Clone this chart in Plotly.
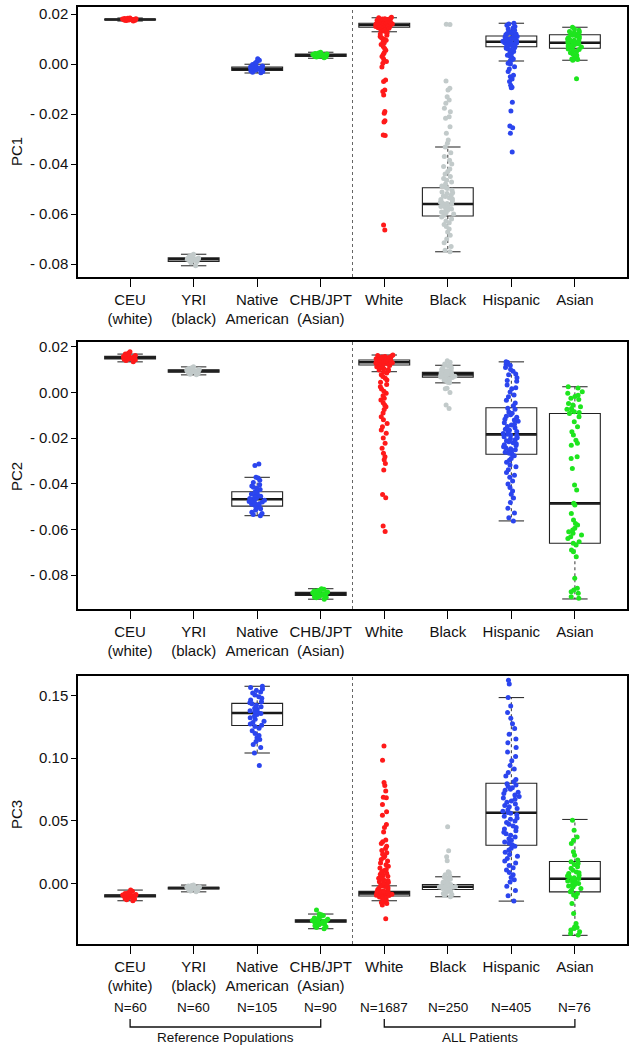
import plotly.graph_objects as go

# ---------------- data ----------------
groups = ["CEU<br>(white)", "YRI<br>(black)", "Native<br>American", "CHB/JPT<br>(Asian)",
          "White", "Black", "Hispanic", "Asian"]
group_n = ["N=60", "N=60", "N=105", "N=90", "N=1687", "N=250", "N=405", "N=76"]
positions = [1, 2, 3, 4, 5, 6, 7, 8]

pc1_ticks = [0.02, 0.0, -0.02, -0.04, -0.06, -0.08]
pc1_ticktext = ["0.02", "0.00", "- 0.02", "- 0.04", "- 0.06", "- 0.08"]
pc2_ticks = [0.02, 0.0, -0.02, -0.04, -0.06, -0.08]
pc2_ticktext = ["0.02", "0.00", "- 0.02", "- 0.04", "- 0.06", "- 0.08"]
pc3_ticks = [0.0, 0.05, 0.10, 0.15]
pc3_ticktext = ["0.00", "0.05", "0.10", "0.15"]

# box statistics (CEU, YRI, Native, CHB/JPT, White, Black, Hispanic, Asian)
pc1_lo = [0.0172, -0.0807, -0.0036, 0.0023, 0.0129, -0.0751, 0.0012, 0.0015]
pc1_q1 = [0.0176, -0.0790, -0.0026, 0.0030, 0.0147, -0.0608, 0.0069, 0.0063]
pc1_med = [0.0178, -0.0781, -0.0019, 0.0035, 0.0156, -0.0560, 0.0089, 0.0085]
pc1_q3 = [0.0180, -0.0775, -0.0012, 0.0040, 0.0163, -0.0495, 0.0112, 0.0117]
pc1_hi = [0.0184, -0.0761, -0.0001, 0.0047, 0.0185, -0.0332, 0.0163, 0.0147]

pc2_lo = [0.0134, 0.0077, -0.0540, -0.0906, 0.0091, 0.0042, -0.0563, -0.0905]
pc2_q1 = [0.0147, 0.0089, -0.0498, -0.0890, 0.0120, 0.0067, -0.0271, -0.0661]
pc2_med = [0.0152, 0.0094, -0.0468, -0.0883, 0.0132, 0.0079, -0.0184, -0.0486]
pc2_q3 = [0.0158, 0.0099, -0.0435, -0.0876, 0.0142, 0.0088, -0.0067, -0.0092]
pc2_hi = [0.0168, 0.0112, -0.0372, -0.0860, 0.0164, 0.0119, 0.0134, 0.0025]

pc3_lo = [-0.0138, -0.0067, 0.1040, -0.0361, -0.0138, -0.0106, -0.0141, -0.0414]
pc3_q1 = [-0.0108, -0.0045, 0.1259, -0.0310, -0.0100, -0.0048, 0.0305, -0.0067]
pc3_med = [-0.0098, -0.0037, 0.1359, -0.0300, -0.0079, -0.0027, 0.0563, 0.0037]
pc3_q3 = [-0.0090, -0.0030, 0.1436, -0.0290, -0.0063, -0.0008, 0.0799, 0.0175]
pc3_hi = [-0.0053, -0.0013, 0.1572, -0.0244, -0.0019, 0.0053, 0.1482, 0.0510]

# individual sample values
pc1_ceu = [0.0172, 0.0175, 0.0178, 0.0180, 0.0176, 0.0179, 0.0181, 0.0177, 0.0174, 0.0183,
           0.0178, 0.0176, 0.0180, 0.0179, 0.0182, 0.0175, 0.0177, 0.0178, 0.0181, 0.0184]
pc1_yri = [-0.0781, -0.0776, -0.0785, -0.0779, -0.0790, -0.0772, -0.0783, -0.0788, -0.0778, -0.0765,
           -0.0795, -0.0780, -0.0784, -0.0777, -0.0807, -0.0770, -0.0782, -0.0786, -0.0761, -0.0779]
pc1_nat = [-0.0019, -0.0022, -0.0015, -0.0025, -0.0012, -0.0030, -0.0018, -0.0008, -0.0002, 0.0005,
           0.0015, 0.0021, -0.0035, -0.0027, -0.0020, -0.0014, -0.0010, -0.0024, -0.0016, -0.0033,
           -0.0005, 0.0010]
pc1_chb = [0.0035, 0.0032, 0.0038, 0.0030, 0.0041, 0.0036, 0.0028, 0.0044, 0.0034, 0.0039,
           0.0025, 0.0047, 0.0033, 0.0037, 0.0031, 0.0042, 0.0036, 0.0029, 0.0040, 0.0035]
pc1_white = [0.0156, 0.0150, 0.0160, 0.0165, 0.0145, 0.0170, 0.0175, 0.0180, 0.0185, 0.0140,
             0.0135, 0.0130, 0.0158, 0.0152, 0.0162, 0.0148, 0.0167, 0.0172, 0.0178, 0.0183,
             0.0155, 0.0143, 0.0138, 0.0159, 0.0153, 0.0164, 0.0169, 0.0176, 0.0181, 0.0187,
             0.0149, 0.0157, 0.0161, 0.0133, 0.0146, 0.0174, 0.0151, 0.0163, 0.0154, 0.0166,
             0.0125, 0.0120, 0.0115, 0.0110, 0.0105, 0.0100, 0.0095, 0.0090, 0.0085, 0.0078,
             0.0070, 0.0062, 0.0055, 0.0045, 0.0038, 0.0030, 0.0020, 0.0010, 0.0003, -0.0012,
             -0.0064, -0.0070, -0.0104, -0.0110, -0.0124, -0.0190, -0.0197, -0.0227, -0.0232,
             -0.0284, -0.0286, -0.0644, -0.0664]
pc1_black = [0.0159, 0.0158, -0.0068, -0.0097, -0.0104, -0.0131, -0.0144, -0.0157, -0.0177, -0.0191,
             -0.0211, -0.0217, -0.0251, -0.0277, -0.0304, -0.0317,
             -0.0332, -0.0355, -0.0370, -0.0385, -0.0400, -0.0410, -0.0420, -0.0430, -0.0440, -0.0450,
             -0.0458, -0.0465, -0.0472, -0.0480, -0.0488, -0.0493,
             -0.0498, -0.0505, -0.0512, -0.0518, -0.0525, -0.0530, -0.0536, -0.0542, -0.0548, -0.0553,
             -0.0558, -0.0561, -0.0565, -0.0570, -0.0575, -0.0580, -0.0585, -0.0590, -0.0595, -0.0600,
             -0.0605, -0.0540, -0.0555, -0.0568, -0.0578, -0.0592, -0.0528, -0.0515,
             -0.0612, -0.0620, -0.0628, -0.0635, -0.0642, -0.0650, -0.0660, -0.0672, -0.0685, -0.0700,
             -0.0715, -0.0730, -0.0745, -0.0751]
pc1_hisp = [0.0089, 0.0085, 0.0092, 0.0075, 0.0070, 0.0080, 0.0095, 0.0100, 0.0105, 0.0110,
            0.0115, 0.0120, 0.0125, 0.0130, 0.0135, 0.0140, 0.0145, 0.0150, 0.0155, 0.0160,
            0.0163, 0.0065, 0.0060, 0.0055, 0.0050, 0.0045, 0.0040, 0.0035, 0.0030, 0.0025,
            0.0020, 0.0015, 0.0012, 0.0088, 0.0093, 0.0082, 0.0078, 0.0098, 0.0103, 0.0108,
            0.0072, 0.0086, 0.0091, 0.0117, 0.0122, 0.0068, 0.0097, 0.0128, 0.0063, 0.0084,
            0.0003, 0.0000, -0.0011, -0.0020, -0.0030, -0.0045, -0.0051, -0.0060, -0.0070, -0.0085,
            -0.0093, -0.0095, -0.0153, -0.0188, -0.0248, -0.0255, -0.0277, -0.0352]
pc1_asian = [0.0085, 0.0080, 0.0090, 0.0075, 0.0095, 0.0070, 0.0100, 0.0065, 0.0105, 0.0110,
             0.0115, 0.0120, 0.0125, 0.0130, 0.0135, 0.0140, 0.0147, 0.0060, 0.0055, 0.0050,
             0.0045, 0.0040, 0.0035, 0.0030, 0.0025, 0.0020, 0.0015, 0.0088, 0.0082, 0.0092,
             0.0078, 0.0098, 0.0068, 0.0112, 0.0118, 0.0072, 0.0086, 0.0103, 0.0128, 0.0058,
             0.0020, 0.0018, -0.0059]

pc2_ceu = [0.0152, 0.0148, 0.0155, 0.0158, 0.0145, 0.0150, 0.0162, 0.0140, 0.0135, 0.0168,
           0.0172, 0.0178, 0.0153, 0.0147, 0.0156, 0.0160, 0.0143, 0.0151, 0.0165, 0.0149]
pc2_yri = [0.0094, 0.0090, 0.0098, 0.0087, 0.0101, 0.0093, 0.0096, 0.0084, 0.0105, 0.0080,
           0.0108, 0.0112, 0.0077, 0.0092, 0.0099, 0.0095, 0.0089, 0.0102, 0.0091, 0.0097]
pc2_nat = [-0.0468, -0.0460, -0.0475, -0.0450, -0.0485, -0.0440, -0.0495, -0.0435, -0.0505, -0.0515,
           -0.0525, -0.0535, -0.0540, -0.0425, -0.0415, -0.0405, -0.0395, -0.0385, -0.0375, -0.0372,
           -0.0465, -0.0472, -0.0455, -0.0480, -0.0445, -0.0490, -0.0500, -0.0510, -0.0530, -0.0462,
           -0.0478, -0.0452, -0.0488, -0.0420, -0.0410, -0.0314, -0.0320]
pc2_chb = [-0.0883, -0.0878, -0.0888, -0.0875, -0.0892, -0.0870, -0.0896, -0.0865, -0.0900, -0.0860,
           -0.0906, -0.0885, -0.0880, -0.0890, -0.0873, -0.0894, -0.0868, -0.0882, -0.0887, -0.0877,
           -0.0898, -0.0862]
pc2_white = [0.0132, 0.0128, 0.0136, 0.0125, 0.0140, 0.0122, 0.0145, 0.0150, 0.0155, 0.0160,
             0.0164, 0.0118, 0.0112, 0.0105, 0.0098, 0.0091, 0.0130, 0.0134, 0.0127, 0.0138,
             0.0124, 0.0142, 0.0148, 0.0153, 0.0158, 0.0162, 0.0115, 0.0108, 0.0101, 0.0095,
             0.0131, 0.0129, 0.0135, 0.0121, 0.0143, 0.0147,
             0.0085, 0.0078, 0.0070, 0.0062, 0.0054, 0.0045, 0.0035, 0.0025, 0.0015, 0.0005,
             -0.0004, -0.0015, -0.0025, -0.0033, -0.0045, -0.0055, -0.0063, -0.0075, -0.0090, -0.0107,
             -0.0120, -0.0136, -0.0150, -0.0165, -0.0179, -0.0200, -0.0223, -0.0245, -0.0267, -0.0282,
             -0.0295, -0.0311, -0.0340, -0.0447, -0.0461, -0.0585, -0.0609]
pc2_black = [0.0079, 0.0075, 0.0083, 0.0070, 0.0086, 0.0068, 0.0090, 0.0095, 0.0100, 0.0105,
             0.0110, 0.0115, 0.0119, 0.0065, 0.0060, 0.0055, 0.0050, 0.0045, 0.0042, 0.0077,
             0.0081, 0.0073, 0.0085, 0.0071, 0.0088, 0.0092, 0.0098, 0.0108, 0.0062, 0.0052,
             0.0125, 0.0132, 0.0139, 0.0018, 0.0016, 0.0000, -0.0055, -0.0070]
pc2_hisp = [0.0134, 0.0131, 0.0122, 0.0118, 0.0109, 0.0101, 0.0093, 0.0081, 0.0077, 0.0064,
            0.0052, 0.0049, 0.0033, 0.0021, 0.0016, 0.0002, -0.0011, -0.0019, -0.0034, -0.0046,
            -0.0058, -0.0069, -0.0074, -0.0086, -0.0091, -0.0098, -0.0104, -0.0109, -0.0117, -0.0121,
            -0.0126, -0.0133, -0.0139, -0.0143, -0.0149, -0.0155, -0.0161, -0.0166, -0.0171, -0.0176,
            -0.0180, -0.0183, -0.0186, -0.0189, -0.0194, -0.0199, -0.0203, -0.0207, -0.0212, -0.0216,
            -0.0221, -0.0225, -0.0229, -0.0233, -0.0238, -0.0242, -0.0247, -0.0251, -0.0255, -0.0259,
            -0.0262, -0.0266, -0.0270, -0.0278, -0.0289, -0.0297, -0.0306, -0.0318, -0.0326, -0.0339,
            -0.0351, -0.0363, -0.0372, -0.0388, -0.0401, -0.0417, -0.0432, -0.0446, -0.0463, -0.0482,
            -0.0507, -0.0528, -0.0549, -0.0563]
pc2_asian = [0.0025, 0.0019, 0.0003, -0.0004, -0.0012, -0.0018, -0.0026, -0.0031, -0.0048, -0.0055,
             -0.0063, -0.0070, -0.0074, -0.0077, -0.0085, -0.0088, -0.0092, -0.0107, -0.0129, -0.0150,
             -0.0172, -0.0187, -0.0209, -0.0223, -0.0231, -0.0282, -0.0289, -0.0333, -0.0406, -0.0428,
             -0.0486, -0.0493, -0.0530, -0.0559, -0.0574, -0.0581, -0.0595, -0.0603, -0.0610, -0.0617,
             -0.0625, -0.0632, -0.0640, -0.0654, -0.0661, -0.0669, -0.0690, -0.0698, -0.0720, -0.0814,
             -0.0858, -0.0866, -0.0873, -0.0880, -0.0895, -0.0902]

pc3_ceu = [-0.0098, -0.0094, -0.0102, -0.0090, -0.0106, -0.0088, -0.0110, -0.0085, -0.0115, -0.0080,
           -0.0120, -0.0075, -0.0125, -0.0070, -0.0130, -0.0062, -0.0138, -0.0053, -0.0100, -0.0096,
           -0.0104, -0.0092]
pc3_yri = [-0.0037, -0.0034, -0.0040, -0.0031, -0.0043, -0.0028, -0.0046, -0.0025, -0.0050, -0.0020,
           -0.0055, -0.0016, -0.0060, -0.0013, -0.0067, -0.0036, -0.0039, -0.0033, -0.0041, -0.0029]
pc3_nat = [0.1572, 0.1563, 0.1551, 0.1538, 0.1527, 0.1519, 0.1503, 0.1488, 0.1476, 0.1462,
           0.1449, 0.1441, 0.1433, 0.1421, 0.1408, 0.1397, 0.1389, 0.1376, 0.1368, 0.1361,
           0.1355, 0.1347, 0.1336, 0.1322, 0.1309, 0.1294, 0.1283, 0.1271, 0.1262, 0.1251,
           0.1237, 0.1218, 0.1196, 0.1179, 0.1162, 0.1148, 0.1131, 0.1107, 0.1083, 0.1040,
           0.0940]
pc3_chb = [-0.0300, -0.0296, -0.0305, -0.0290, -0.0310, -0.0285, -0.0315, -0.0280, -0.0320, -0.0275,
           -0.0325, -0.0270, -0.0330, -0.0262, -0.0338, -0.0255, -0.0345, -0.0250, -0.0352, -0.0244,
           -0.0361, -0.0298, -0.0302, -0.0212]
pc3_white = [-0.0079, -0.0076, -0.0082, -0.0071, -0.0087, -0.0066, -0.0094, -0.0064, -0.0099, -0.0059,
             -0.0104, -0.0051, -0.0109, -0.0045, -0.0116, -0.0038, -0.0123, -0.0031, -0.0131, -0.0024,
             -0.0137, -0.0020, -0.0080, -0.0074, -0.0086, -0.0069, -0.0091, -0.0067, -0.0097, -0.0061,
             -0.0012, -0.0005, 0.0003, 0.0008, 0.0014, 0.0021, 0.0027, 0.0034, 0.0042, 0.0049,
             0.0057, 0.0066, 0.0073, 0.0081, 0.0092, 0.0103, 0.0112, 0.0124, 0.0137, 0.0149,
             0.0163, 0.0178, 0.0191, 0.0206, 0.0219, 0.0233, 0.0245, 0.0262, 0.0278, 0.0296,
             0.0318, 0.0332, 0.0347, 0.0411, 0.0446, 0.0470, 0.0544, 0.0571, 0.0629, 0.0683,
             0.0688, 0.0738, 0.0781, 0.0805, 0.0982, 0.1096,
             -0.0146, -0.0153, -0.0161, -0.0173, -0.0282]
pc3_black = [-0.0027, -0.0023, -0.0031, -0.0018, -0.0036, -0.0013, -0.0041, -0.0008, -0.0046, -0.0003,
             -0.0052, 0.0003, -0.0058, 0.0010, -0.0065, 0.0018, -0.0072, 0.0025, -0.0080, 0.0033,
             -0.0088, 0.0040, -0.0097, 0.0047, -0.0106, 0.0053, -0.0025, -0.0029, -0.0020, -0.0034,
             0.0062, 0.0070, 0.0085, 0.0093, 0.0180, 0.0212, 0.0260, 0.0451]
pc3_hisp = [0.1620, 0.1590, 0.1482, 0.1415, 0.1362, 0.1318, 0.1274, 0.1236, 0.1190, 0.1152,
            0.1121, 0.1083, 0.1047, 0.1012, 0.0978, 0.0941, 0.0913, 0.0884, 0.0857, 0.0829,
            0.0811, 0.0795, 0.0784, 0.0772, 0.0763, 0.0751, 0.0742, 0.0728, 0.0717, 0.0705,
            0.0694, 0.0681, 0.0672, 0.0658, 0.0647, 0.0633, 0.0621, 0.0612, 0.0598, 0.0587,
            0.0575, 0.0566, 0.0559, 0.0547, 0.0536, 0.0522, 0.0511, 0.0497, 0.0485, 0.0472,
            0.0458, 0.0446, 0.0433, 0.0421, 0.0409, 0.0396, 0.0384, 0.0371, 0.0357, 0.0344,
            0.0331, 0.0322, 0.0309, 0.0297, 0.0281, 0.0266, 0.0249, 0.0231, 0.0216, 0.0198,
            0.0179, 0.0162, 0.0143, 0.0126, 0.0108, 0.0087, 0.0069, 0.0048, 0.0029, 0.0011,
            -0.0023, -0.0057, -0.0098, -0.0141]
pc3_asian = [0.0504, 0.0425, 0.0371, 0.0344, 0.0318, 0.0252, 0.0225, 0.0186, 0.0172, 0.0159,
             0.0150, 0.0133, 0.0121, 0.0105, 0.0092, 0.0085, 0.0079, 0.0066, 0.0060, 0.0053,
             0.0046, 0.0039, 0.0032, 0.0026, 0.0020, 0.0013, 0.0006, 0.0000, -0.0008, -0.0014,
             -0.0021, -0.0027, -0.0040, -0.0054, -0.0066, -0.0080, -0.0093, -0.0107, -0.0160, -0.0240,
             -0.0319, -0.0346, -0.0352, -0.0359, -0.0372, -0.0385, -0.0399, -0.0412]

# ---------------- styling ----------------
colors = ["#ff1a1a", "#c2caca", "#2b45ee", "#1ee51e", "#ff1a1a", "#c2caca", "#2b45ee", "#1ee51e"]
FONT = "Liberation Sans, Arial, sans-serif"
W, H = 632, 1048


def px_x(v):
    return min(1.0, max(0.0, v / W))


def px_y(v):
    return min(1.0, max(0.0, 1 - v / H))


panels = [
    dict(points=[pc1_ceu, pc1_yri, pc1_nat, pc1_chb, pc1_white, pc1_black, pc1_hisp, pc1_asian],
         lo=pc1_lo, q1=pc1_q1, med=pc1_med, q3=pc1_q3, hi=pc1_hi,
         yrange=[-0.0852, 0.0228], ticks=pc1_ticks, ticktext=pc1_ticktext,
         top=7, bottom=277, title="PC1", title_y=152),
    dict(points=[pc2_ceu, pc2_yri, pc2_nat, pc2_chb, pc2_white, pc2_black, pc2_hisp, pc2_asian],
         lo=pc2_lo, q1=pc2_q1, med=pc2_med, q3=pc2_q3, hi=pc2_hi,
         yrange=[-0.0949, 0.0221], ticks=pc2_ticks, ticktext=pc2_ticktext,
         top=342, bottom=609, title="PC2", title_y=477),
    dict(points=[pc3_ceu, pc3_yri, pc3_nat, pc3_chb, pc3_white, pc3_black, pc3_hisp, pc3_asian],
         lo=pc3_lo, q1=pc3_q1, med=pc3_med, q3=pc3_q3, hi=pc3_hi,
         yrange=[-0.0483, 0.1654], ticks=pc3_ticks, ticktext=pc3_ticktext,
         top=676, bottom=944, title="PC3", title_y=815),
]

fig = go.Figure()
shapes = []
annotations = []
BOXW = 0.8

for k, p in enumerate(panels):
    sfx = "" if k == 0 else str(k + 1)
    xa, ya = "x" + sfx, "y" + sfx

    # boxes (quartiles + median)
    fig.add_trace(go.Box(
        x=positions, q1=p["q1"], median=p["med"], q3=p["q3"],
        lowerfence=p["q1"], upperfence=p["q3"],
        width=BOXW, whiskerwidth=0, boxpoints=False,
        fillcolor="rgba(0,0,0,0)", line=dict(color="#222222", width=1.1),
        xaxis=xa, yaxis=ya, showlegend=False, hoverinfo="skip"))

    # jittered points
    for i, vals in enumerate(p["points"]):
        fig.add_trace(go.Box(
            y=vals, x0=positions[i], width=BOXW,
            boxpoints="all", jitter=0.34, pointpos=0,
            marker=dict(color=colors[i], size=5, opacity=1, line=dict(width=0)),
            line=dict(color="rgba(0,0,0,0)", width=0),
            fillcolor="rgba(0,0,0,0)",
            xaxis=xa, yaxis=ya, showlegend=False, hoverinfo="y"))

    # whiskers, caps, thick medians
    for i, xpos in enumerate(positions):
        for y0, y1 in ((p["q3"][i], p["hi"][i]), (p["q1"][i], p["lo"][i])):
            shapes.append(dict(type="line", xref=xa, yref=ya, x0=xpos, x1=xpos, y0=y0, y1=y1,
                               line=dict(color="#333333", width=1, dash="3px,3px"), layer="below"))
        for yv in (p["hi"][i], p["lo"][i]):
            shapes.append(dict(type="line", xref=xa, yref=ya, x0=xpos - BOXW / 4, x1=xpos + BOXW / 4,
                               y0=yv, y1=yv, line=dict(color="#333333", width=1.1), layer="below"))
        shapes.append(dict(type="line", xref=xa, yref=ya, x0=xpos - BOXW / 2, x1=xpos + BOXW / 2,
                           y0=p["med"][i], y1=p["med"][i], line=dict(color="#111111", width=2.6),
                           layer="below"))

    # dashed separator
    shapes.append(dict(type="line", xref=xa, yref=ya + " domain", x0=4.5, x1=4.5, y0=0, y1=1,
                       line=dict(color="#666666", width=1, dash="3px,3px"), layer="below"))

    dom = [px_y(p["bottom"]), px_y(p["top"])]
    axis_common = dict(showline=True, linecolor="black", linewidth=1.5, mirror=True,
                       showgrid=False, zeroline=False, ticks="outside", tickcolor="black",
                       tickwidth=1.2, automargin=False,
                       tickfont=dict(family=FONT, size=15, color="#111111"))
    fig.update_layout(**{
        ("xaxis" + sfx): dict(axis_common, domain=[px_x(78), px_x(627)], range=[0.18, 8.82],
                              tickvals=positions, ticktext=groups, ticklen=8, tickangle=0,
                              anchor=ya),
        ("yaxis" + sfx): dict(axis_common, domain=dom, range=p["yrange"], tickvals=p["ticks"],
                              ticktext=p["ticktext"], ticklen=5, tickangle=0, anchor=xa),
    })
    annotations.append(dict(text=p["title"], xref="paper", yref="paper", x=px_x(16),
                            y=px_y(p["title_y"]), showarrow=False, textangle=-90,
                            font=dict(family=FONT, size=15, color="#111111"),
                            xanchor="center", yanchor="middle"))

# N labels and brackets under bottom panel
for i, xpos in enumerate(positions):
    annotations.append(dict(text=group_n[i], xref="x3", yref="paper", x=xpos, y=px_y(1007),
                            showarrow=False, font=dict(family=FONT, size=13.5, color="#111111"),
                            xanchor="center", yanchor="middle"))

bracket_groups = [(positions[0], positions[3], "Reference Populations"),
                  (positions[4], positions[7], "ALL Patients")]
yb_top, yb_bot = px_y(1019), px_y(1027)
for a, b, label in bracket_groups:
    shapes.append(dict(type="path", xref="x3", yref="paper",
                       path=f"M {a},{yb_top} L {a},{yb_bot} L {b},{yb_bot} L {b},{yb_top}",
                       line=dict(color="#111111", width=1.3)))
    annotations.append(dict(text=label, xref="x3", yref="paper", x=(a + b) / 2, y=px_y(1037),
                            showarrow=False, font=dict(family=FONT, size=13.5, color="#111111"),
                            xanchor="center", yanchor="middle"))

fig.update_layout(width=W, height=H, margin=dict(l=0, r=0, t=0, b=0, autoexpand=False),
                  paper_bgcolor="white", plot_bgcolor="white", boxmode="overlay",
                  shapes=shapes, annotations=annotations, showlegend=False,
                  font=dict(family=FONT, size=15, color="#111111"))

# remove the browser's default 8px body margin so the figure sits at the page origin
fig.write_html("out.html", config={"displayModeBar": False},
               post_script="document.body.style.margin='0';document.body.style.overflow='hidden';")
